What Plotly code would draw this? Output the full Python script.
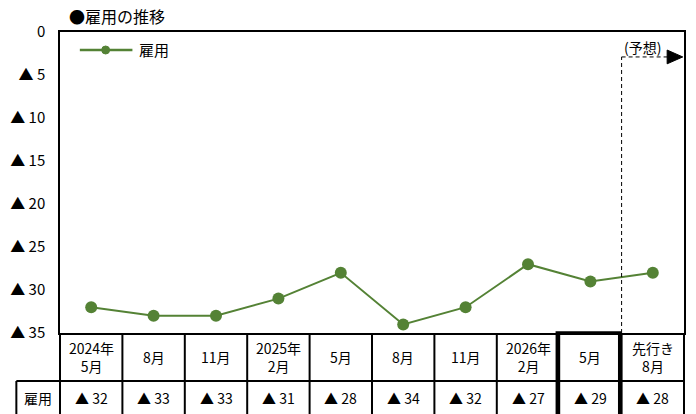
import plotly.graph_objects as go

# データ
periods = ['2024年<br>5月', '8月', '11月', '2025年<br>2月', '5月', '8月', '11月', '2026年<br>2月', '5月', '先行き<br>8月']
koyo = [-32, -33, -33, -31, -28, -34, -32, -27, -29, -28]
y_ticks = [0, -5, -10, -15, -20, -25, -30, -35]
y_ticktext = ['0' if v == 0 else f'▲ {abs(v)}' for v in y_ticks]
row_label = '雇用'

GREEN = '#548235'
FONT = 'Noto Sans CJK JP'

W, H = 696, 414
L, R, T, B = 57, 10, 32, 81
PW, PH = W - L - R, H - T - B


def px_x(px):
    return (px - L) / PW


def px_y(py):
    return (H - B - py) / PH


def txt(size=14):
    return dict(size=size, color='black', family=FONT)


x = list(range(len(periods)))

fig = go.Figure()
fig.add_trace(go.Scatter(
    x=x, y=koyo, mode='lines+markers', name='雇用', showlegend=False,
    line=dict(color=GREEN, width=2),
    marker=dict(color=GREEN, size=12)
))

shapes = []
annotations = []

# 表の罫線
row1, row2 = px_y(381), px_y(414)
tline = dict(color='black', width=2)
shapes.append(dict(type='line', xref='paper', yref='paper', x0=px_x(13), x1=1, y0=row1, y1=row1, line=tline))
shapes.append(dict(type='line', xref='paper', yref='paper', x0=px_x(13), x1=px_x(13), y0=row1, y1=row2, line=tline))
for i in range(len(periods) + 1):
    xp = i / len(periods)
    shapes.append(dict(type='line', xref='paper', yref='paper', x0=xp, x1=xp, y0=0, y1=row2, line=tline))

# 強調枠 (最新月)
hi = 8
shapes.append(dict(type='rect', xref='paper', yref='paper',
                   x0=hi / len(periods) - 0.003, x1=(hi + 1) / len(periods) - 0.003,
                   y0=row2 - 0.01, y1=0, line=dict(color='black', width=3.5)))

# 予想の破線と矢印
yd = -2.9
dash = dict(color='black', width=1, dash='4px,3px')
shapes.append(dict(type='line', xref='x', yref='y', x0=8.5, x1=8.5, y0=-35, y1=yd, line=dash))
shapes.append(dict(type='line', xref='x', yref='y', x0=8.5, x1=9.25, y0=yd, y1=yd, line=dash))
shapes.append(dict(type='path', xref='x', yref='y',
                   path=f'M 9.23 {yd - 0.8} L 9.48 {yd} L 9.23 {yd + 0.8} Z',
                   fillcolor='black', line=dict(color='black', width=1)))
annotations.append(dict(x=px_x(644), y=px_y(47), xref='paper', yref='paper', text='(予想)',
                        showarrow=False, xanchor='center', yanchor='middle', font=txt(14)))

# 凡例 (手描き)
ly = px_y(50)
shapes.append(dict(type='line', xref='paper', yref='paper', x0=px_x(77), x1=px_x(130), y0=ly, y1=ly,
                   line=dict(color=GREEN, width=2.5)))
r = 4
shapes.append(dict(type='circle', xref='paper', yref='paper',
                   x0=px_x(103 - r), x1=px_x(103 + r), y0=px_y(50 + r), y1=px_y(50 - r),
                   fillcolor=GREEN, line=dict(color=GREEN, width=1)))
annotations.append(dict(x=px_x(135), y=ly, xref='paper', yref='paper', text='雇用', showarrow=False,
                        xanchor='left', yanchor='middle', font=txt(15)))

# 表の文字
for i, (p, v) in enumerate(zip(periods, koyo)):
    annotations.append(dict(x=i, y=(0 + row1) / 2, xref='x', yref='paper', text=p, showarrow=False,
                            xanchor='center', yanchor='middle', font=txt(14)))
    annotations.append(dict(x=i, y=px_y(398), xref='x', yref='paper',
                            text=f'▲ {abs(v)}', showarrow=False,
                            xanchor='center', yanchor='middle', font=txt(14)))
annotations.append(dict(x=px_x(35), y=px_y(398), xref='paper', yref='paper',
                        text=row_label, showarrow=False, xanchor='center', yanchor='middle', font=txt(14)))

# タイトル
annotations.append(dict(x=px_x(64), y=px_y(16), xref='paper', yref='paper', text='●雇用の推移',
                        showarrow=False, xanchor='left', yanchor='middle', font=txt(16)))

fig.update_layout(
    width=W, height=H,
    margin=dict(l=L, r=R, t=T, b=B),
    paper_bgcolor='white', plot_bgcolor='white',
    font=dict(family=FONT, size=14, color='black'),
    showlegend=False,
    xaxis=dict(range=[-0.5, len(periods) - 0.5], showticklabels=False, showgrid=False,
               zeroline=False, showline=True, mirror=True, linecolor='black', linewidth=1.5),
    yaxis=dict(range=[-35, 0], tickvals=y_ticks, ticktext=y_ticktext, showgrid=False,
               zeroline=False, showline=True, mirror=True, linecolor='black', linewidth=1.5,
               ticks='', tickfont=txt(15), ticklabelstandoff=10),
    shapes=shapes,
    annotations=annotations
)

fig.write_html('out.html', config={'displayModeBar': False},
               post_script="document.body.style.margin='0';")
